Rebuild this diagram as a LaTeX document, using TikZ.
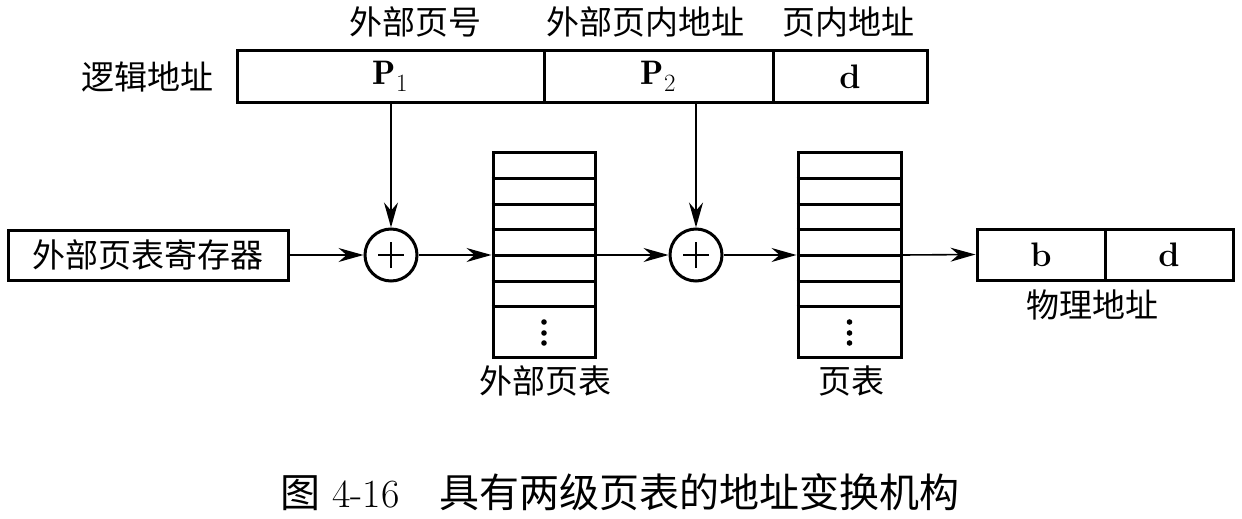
\documentclass[tikz,border=0pt]{standalone}
\usepackage{fontspec}
\newfontfamily\cjk{Noto Sans CJK SC}
\usetikzlibrary{arrows.meta}
\begin{document}
\begin{tikzpicture}[x=1pt,y=-1pt,
  cjkfont/.style={font=\cjk\fontsize{33}{38}\selectfont},
  latfont/.style={font=\fontsize{34}{38}\selectfont\bfseries},
  cell/.style={draw,line width=3pt,inner sep=0pt,latfont},
  tbl/.style={draw,line width=3pt,inner sep=0pt},
  rowline/.style={line width=3pt},
  adder/.style={draw,circle,line width=3pt,minimum size=52pt,inner sep=0pt},
  arr/.style={line width=1.6pt,-{Stealth[length=25pt,width=14pt]}},
  lbl/.style={cjkfont,inner sep=0pt}]
\useasboundingbox (0,0) rectangle (1242,519);
% logical address
\node[cell,minimum width=307pt,minimum height=51pt] (p1) at (390.5,76.5) {$\mathbf{P}_{1}$};
\node[cell,minimum width=229pt,minimum height=51pt] (p2) at (658.5,76.5) {$\mathbf{P}_{2}$};
\node[cell,minimum width=154pt,minimum height=51pt] (pd) at (850,76.5) {d};
\node[lbl] (lla) at (147,77) {逻辑地址};
\node[lbl] (l1) at (415,22) {外部页号};
\node[lbl] (l2) at (645,22) {外部页内地址};
\node[lbl] (l3) at (848,22) {页内地址};
% register
\node[cell,cjkfont,minimum width=280pt,minimum height=50pt] (reg) at (148,255) {外部页表寄存器};
% adders
\node[adder] (c1) at (391,255) {};
\node[adder] (c2) at (696,255) {};
\foreach \c in {c1,c2}{
  \draw[line width=1.1pt] ([xshift=-13pt]\c.center) -- ([xshift=13pt]\c.center);
  \draw[line width=1.1pt] ([yshift=-13pt]\c.center) -- ([yshift=13pt]\c.center);
}
% tables
\node[tbl,minimum width=102pt,minimum height=205pt] (t1) at (544,254.5) {};
\node[tbl,minimum width=103pt,minimum height=205pt] (t2) at (849.5,254.5) {};
\foreach \t in {t1,t2}{
  \foreach \y in {178,204,229,255,281,306}{
    \draw[rowline] (\t.west |- 0,\y) -- (\t.east |- 0,\y);
  }
  \foreach \y in {322,333,343}{
    \fill (\t.center |- 0,\y) circle (2.8pt);
  }
}
\node[lbl] (lt1) at (545,381) {外部页表};
\node[lbl] (lt2) at (851,381) {页表};
% physical address
\node[cell,minimum width=128pt,minimum height=51pt] (pb) at (1041,254.5) {b};
\node[cell,minimum width=128pt,minimum height=51pt] (pd2) at (1169,254.5) {d};
\node[lbl] (lpa) at (1092,305) {物理地址};
% arrows
\draw[arr] (reg.east) -- (c1.west);
\draw[arr] (c1.east) -- (c1.east -| t1.west);
\draw[arr] (c1.east -| t1.east) -- (c2.west);
\draw[arr] (c2.east) -- (c2.east -| t2.west);
\draw[arr] (c2.east -| t2.east) -- (pb.west);
\draw[arr] (p1.south -| c1) -- (c1.north);
\draw[arr] (p1.south -| c2) -- (c2.north);
% caption
\node[inner sep=0pt,font=\fontsize{40}{46}\selectfont] (cap) at (620,492) {{\cjk 图} 4-16\hspace{1em}{\cjk 具有两级页表的地址变换机构}};
\end{tikzpicture}
\end{document}
